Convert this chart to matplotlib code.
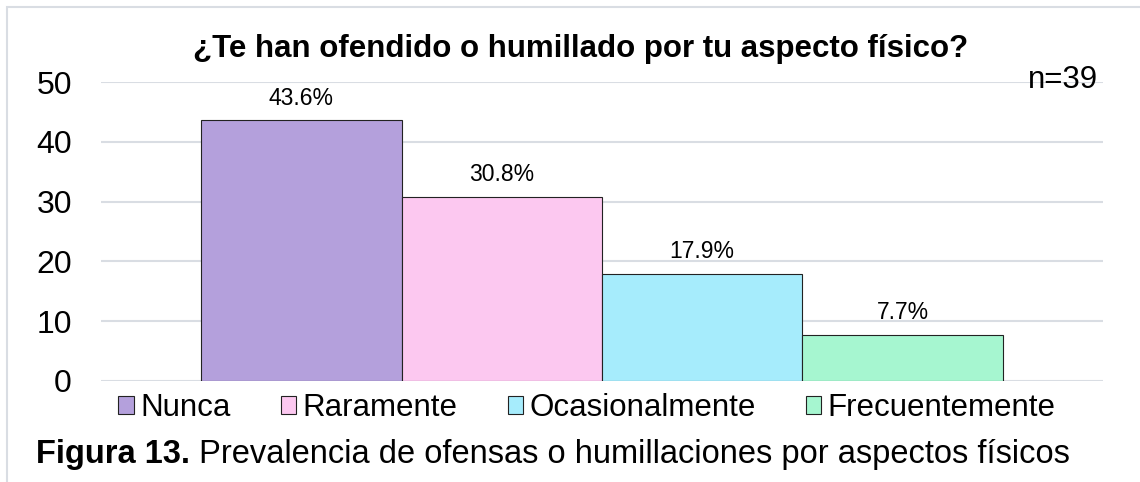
import numpy as np
import matplotlib.pyplot as plt
from matplotlib.patches import Rectangle

plt.rcParams['font.family'] = ['Liberation Sans', 'DejaVu Sans']

categorias = ['Nunca', 'Raramente', 'Ocasionalmente', 'Frecuentemente']
porcentajes = [43.6, 30.8, 17.9, 7.7]
colores = ['#B4A0DC', '#FCC8F0', '#A6ECFC', '#A6F6D0']
yticks = [0, 10, 20, 30, 40, 50]

fig = plt.figure(figsize=(11.4, 4.82), dpi=100)
ax = fig.add_axes([101/1140, 1-381/482, (1103-101)/1140, (381-82)/482])

# marco del grafico
fig.patches.append(Rectangle((7/1140, -0.1), 1.2, 1-7/482+0.1, transform=fig.transFigure,
                             fill=False, edgecolor='#D9DDE3', linewidth=1.5))

x = np.arange(len(categorias))
bars = ax.bar(x, porcentajes, width=1.0, color=colores, edgecolor='#222222',
              linewidth=0.8, label=categorias, zorder=3)
for xi, v in zip(x, porcentajes):
    ax.text(xi, v + 1.8, f'{v:.1f}%', ha='center', va='bottom', fontsize=16.5)

ax.set_xlim(-1, 4)
ax.set_ylim(0, 50)
ax.set_yticks(yticks)
ax.set_xticks([])
ax.tick_params(axis='y', length=0, pad=21, labelsize=23)
ax.grid(axis='y', color='#D9DDE3', linewidth=1.5, zorder=0)
for s in ax.spines.values():
    s.set_visible(False)

fig.text(581/1140, 1-49/482, '¿Te han ofendido o humillado por tu aspecto físico?',
         ha='center', va='center', fontsize=22.5, fontweight='bold')
fig.text(1098/1140, 1-80/482, 'n=39', ha='right', va='center', fontsize=22.5)

leg = fig.legend(handles=bars.patches, labels=categorias, ncol=4,
                 loc='center', bbox_to_anchor=(587/1140, 1-408/482),
                 frameon=False, fontsize=22.5, handlelength=0.5, handleheight=0.5,
                 handletextpad=0.2, columnspacing=1.6, borderaxespad=0)

t1 = fig.text(36/1140, 1-455/482, 'Figura 13.', ha='left', va='center',
              fontsize=23.5, fontweight='bold')
ax.annotate(' Prevalencia de ofensas o humillaciones por aspectos físicos',
            xy=(1, 0.5), xycoords=t1, ha='left', va='center', fontsize=23.5,
            annotation_clip=False)

fig.savefig('out.png', dpi=100)
